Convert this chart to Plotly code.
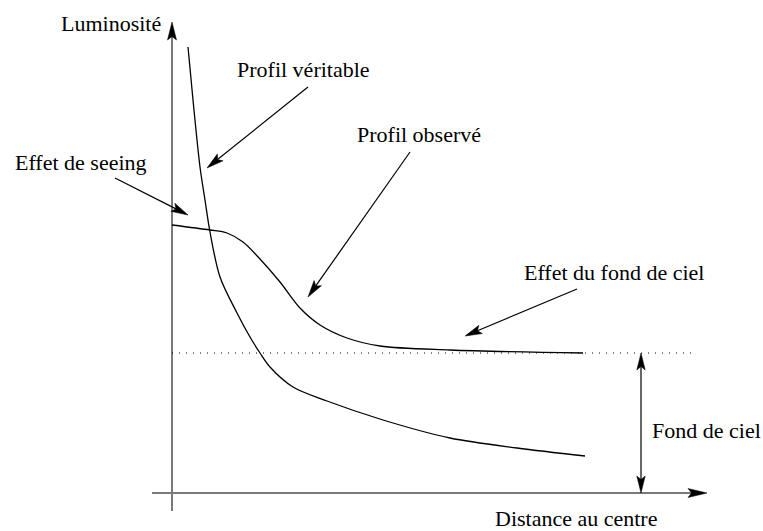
import math
import plotly.graph_objects as go

# Luminosity profile of a galaxy: intrinsic profile, seeing-smoothed profile
# and the flat sky background added on top.
distance_true = [16, 21, 28, 33, 38, 48, 65, 78, 88, 98, 121, 155, 211, 278, 345, 413]
lum_true = [446, 393, 326, 293, 261, 216, 180, 156, 140, 126, 106, 92, 73, 55, 45, 37]

distance_obs = [0, 38, 55, 71, 88, 108, 128, 148, 175, 208, 278, 411]
lum_obs = [268, 263, 260, 251, 234, 211, 185, 168, 155, 147, 143, 140]

sky_level = 140
sky_extent = 521
sky_bar_x = 469

# Axis extents (origin at 0, 0)
x_axis = (-20, 535)
y_axis = (-18, 471)

# Pointer arrows: label text, text anchor, arrow tail, arrow tip
labels = ["Profil véritable", "Effet de seeing", "Profil observé", "Effet du fond de ciel"]
label_pos = [(63, 424), (-159, 331), (183, 359), (350, 221)]
arrow_tail = [(136, 406), (-57, 315), (238, 341), (405, 204)]
arrow_tip = [(35, 325), (16, 278), (136, 196), (293, 157)]

axis_titles = ["Luminosité", "Distance au centre", "Fond de ciel"]
axis_title_pos = [(-113, 470), (321, -25), (478, 63)]

FONT = dict(family="Liberation Serif", size=22, color="black")
GREY = "#7a7a7a"


def head(tip, tail, length=17, half_w=4.2, indent=3.5):
    """Filled, slightly swallow-tailed arrowhead polygon pointing at tip."""
    dx, dy = tip[0] - tail[0], tip[1] - tail[1]
    n = math.hypot(dx, dy)
    ux, uy = dx / n, dy / n
    px, py = -uy, ux
    bx, by = tip[0] - ux * length, tip[1] - uy * length
    cx, cy = tip[0] - ux * (length - indent), tip[1] - uy * (length - indent)
    xs = [tip[0], bx + px * half_w, cx, bx - px * half_w, tip[0]]
    ys = [tip[1], by + py * half_w, cy, by - py * half_w, tip[1]]
    return xs, ys


fig = go.Figure()


def line(xs, ys, color="black", width=1.3, dash=None, shape="linear"):
    fig.add_trace(go.Scatter(x=xs, y=ys, mode="lines", hoverinfo="skip",
                             line=dict(color=color, width=width, dash=dash, shape=shape,
                                       smoothing=0.9 if shape == "spline" else None)))


def fill(xs, ys, color="black"):
    fig.add_trace(go.Scatter(x=xs, y=ys, mode="lines", fill="toself", fillcolor=color,
                             hoverinfo="skip", line=dict(color=color, width=0.5)))


# Axes with arrowheads
line([0, 0], [y_axis[0], y_axis[1] - 10], color=GREY, width=2)
line([x_axis[0], x_axis[1] - 10], [0, 0], color=GREY, width=2)
fill(*head((0, y_axis[1]), (0, 0), length=18, half_w=4.5))
fill(*head((x_axis[1], 0), (0, 0), length=19, half_w=4.5))

# Sky background level
line([0, sky_extent], [sky_level, sky_level], width=1.2, dash="1px,6px")

# Profiles
line(distance_true, lum_true, shape="spline")
line(distance_obs, lum_obs, shape="spline")

# Double arrow marking the sky level height
line([sky_bar_x, sky_bar_x], [10, sky_level - 10], width=1.2)
fill(*head((sky_bar_x, sky_level), (sky_bar_x, 0), length=17, half_w=4.2))
fill(*head((sky_bar_x, 0), (sky_bar_x, sky_level), length=17, half_w=4.2))

# Pointer arrows
for tail, tip in zip(arrow_tail, arrow_tip):
    hx, hy = head(tip, tail, length=17, half_w=4.5)
    line([tail[0], hx[2]], [tail[1], hy[2]], width=1.2)
    fill(hx, hy)

annotations = []
for text, (x, y) in zip(labels + axis_titles, label_pos + axis_title_pos):
    annotations.append(dict(x=x, y=y, text=text, showarrow=False, xanchor="left",
                            yanchor="middle", font=FONT))

fig.update_layout(
    width=763, height=531,
    margin=dict(l=0, r=0, t=0, b=0),
    paper_bgcolor="white", plot_bgcolor="white",
    showlegend=False,
    xaxis=dict(range=[-172, 591], visible=False, fixedrange=True),
    yaxis=dict(range=[-38, 493], visible=False, fixedrange=True),
    annotations=annotations,
)

fig.write_html("out.html", config=dict(displayModeBar=False))
